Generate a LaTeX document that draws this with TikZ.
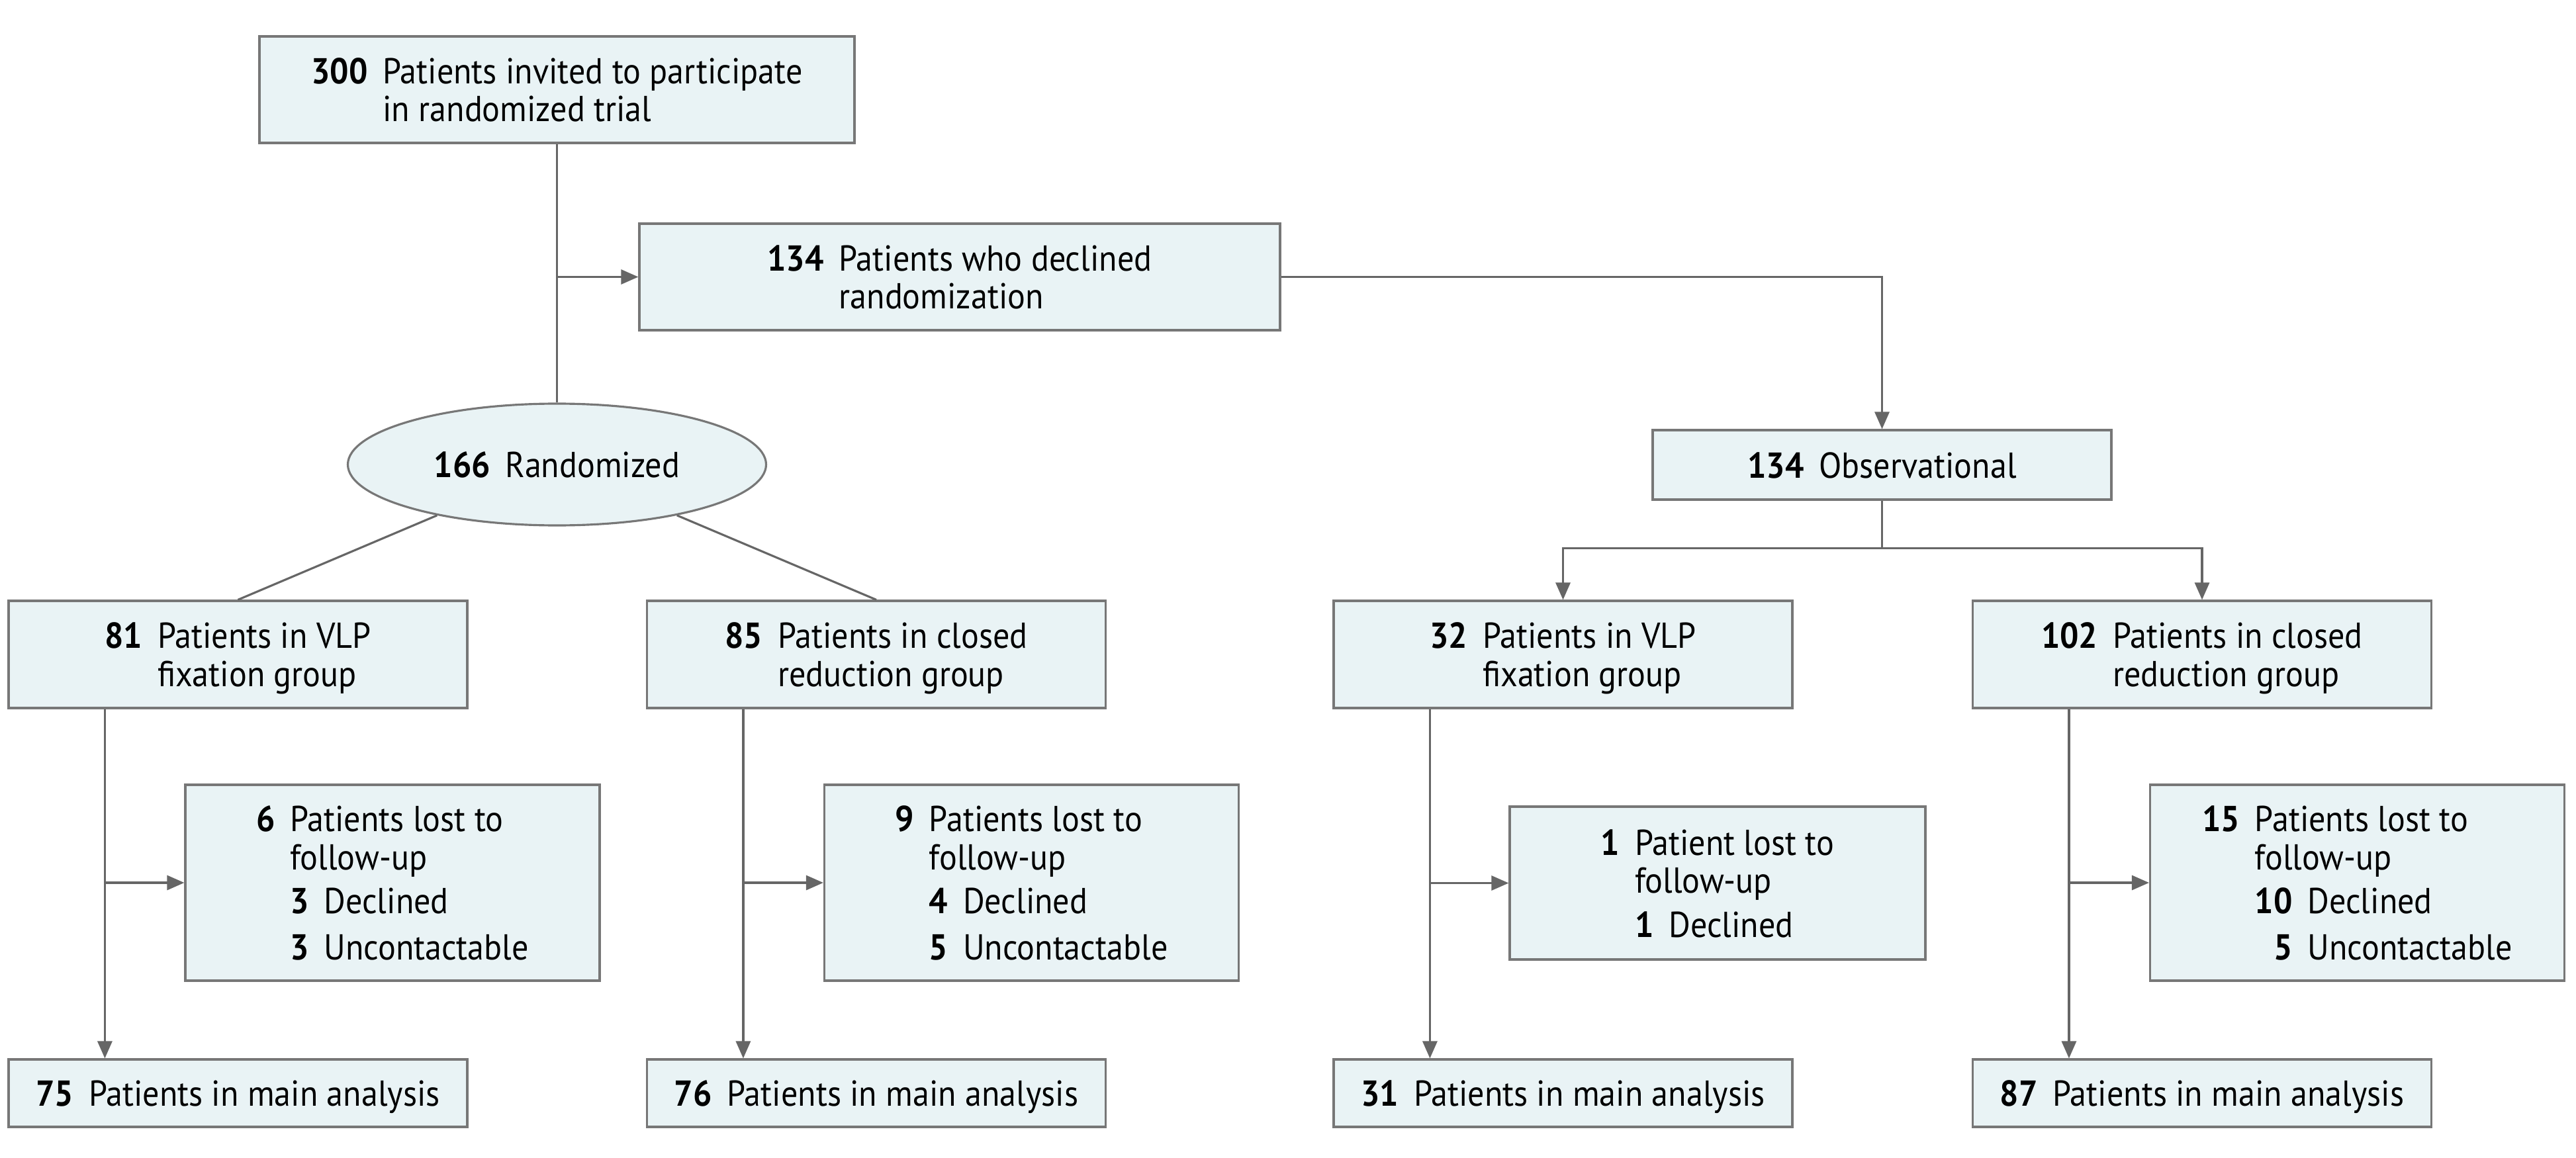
\documentclass[tikz,border=0pt]{standalone}
\usepackage{fontspec}
\setmainfont{PT Sans}[FakeStretch=0.92]
\usepackage{tikz}
\usetikzlibrary{shapes.geometric, arrows.meta, calc}
\definecolor{boxfill}{HTML}{E9F3F5}
\definecolor{boxline}{HTML}{777777}
\definecolor{linkgray}{HTML}{666666}
\newcommand{\flowtext}[1]{\raisebox{-2.3pt}[\height][\depth]{\begin{tabular}{@{}r@{\hspace{0.42em}}l@{}}#1\end{tabular}}}
\newcommand{\subrows}[1]{\begin{tabular}[t]{@{}r@{\hspace{0.42em}}l@{}}#1\end{tabular}}

\begin{document}
\begin{tikzpicture}[
  flowbox/.style={
    rectangle,
    draw=boxline,
    fill=boxfill,
    line width=0.9pt,
    minimum width=6.93cm,
    minimum height=1.62cm,
    inner sep=0pt,
    align=center,
    font=\fontsize{15.5}{16.4}\selectfont
  },
  lostbox/.style={flowbox, minimum width=6.26cm, minimum height=2.96cm},
  endbox/.style={flowbox, minimum height=1.02cm},
  arrow/.style={-{Triangle[length=0.26cm, width=0.22cm]}, line width=0.9pt, linkgray},
  link/.style={line width=0.9pt, linkgray}
]
  \useasboundingbox (0,0) rectangle (38.92,-17.5);

  \node[flowbox, minimum width=8.99cm, minimum height=1.61cm] (invited) at (8.415,-1.355)
    {\flowtext{\textbf{300} & Patients invited to participate\\ & in randomized trial}};
  \node[flowbox, minimum width=9.68cm, minimum height=1.61cm] (declined) at (14.5,-4.185)
    {\flowtext{\textbf{134} & Patients who declined\\ & randomization}};
  \node[flowbox, ellipse, minimum width=6.32cm, minimum height=1.84cm] (random) at (8.415,-7.02)
    {\flowtext{\textbf{166} & Randomized}};
  \node[flowbox, minimum height=1.05cm] (observ) at (28.435,-7.025)
    {\flowtext{\textbf{134} & Observational}};

  \node[flowbox] (vlpA) at (3.595,-9.89) {\flowtext{\textbf{81} & Patients in VLP\\ & fixation group}};
  \node[flowbox] (crA) at (13.24,-9.89) {\flowtext{\textbf{85} & Patients in closed\\ & reduction group}};
  \node[flowbox] (vlpB) at (23.615,-9.89) {\flowtext{\textbf{32} & Patients in VLP\\ & fixation group}};
  \node[flowbox] (crB) at (33.27,-9.89) {\flowtext{\textbf{102} & Patients in closed\\ & reduction group}};

  \node[lostbox] (lostA) at (5.93,-13.34)
    {\flowtext{\textbf{6} & Patients lost to\\ & follow-up\\[2.5pt] & \subrows{\textbf{3} & Declined\\[3.5pt] \textbf{3} & Uncontactable}}};
  \node[lostbox] (lostB) at (15.585,-13.34)
    {\flowtext{\textbf{9} & Patients lost to\\ & follow-up\\[2.5pt] & \subrows{\textbf{4} & Declined\\[3.5pt] \textbf{5} & Uncontactable}}};
  \node[lostbox, minimum width=6.28cm, minimum height=2.31cm] (lostC) at (25.95,-13.345)
    {\flowtext{\textbf{1} & Patient lost to\\ & follow-up\\[2.5pt] & \subrows{\textbf{1} & Declined}}};
  \node[lostbox] (lostD) at (35.615,-13.34)
    {\flowtext{\textbf{15} & Patients lost to\\ & follow-up\\[2.5pt] & \subrows{\textbf{10} & Declined\\[3.5pt] \textbf{5} & Uncontactable}}};

  \node[endbox] (mainA) at (3.595,-16.52) {\flowtext{\textbf{75} & Patients in main analysis}};
  \node[endbox] (mainB) at (13.24,-16.52) {\flowtext{\textbf{76} & Patients in main analysis}};
  \node[endbox] (mainC) at (23.615,-16.52) {\flowtext{\textbf{31} & Patients in main analysis}};
  \node[endbox] (mainD) at (33.27,-16.52) {\flowtext{\textbf{87} & Patients in main analysis}};

  \draw[link] (invited.south) -- (random.north);
  \draw[arrow] (invited.south |- declined.west) -- (declined.west);
  \draw[arrow] (declined.east) -| (observ.north);

  \draw[link] (random) -- (vlpA.north);
  \draw[link] (random) -- (crA.north);

  \coordinate (split) at ($(observ.south)+(0,-0.715)$);
  \draw[link] (observ.south) -- (split);
  \draw[arrow] (split) -| (vlpB.north);
  \draw[arrow] (split) -| (crB.north);

  \foreach \grp/\lost/\fin in {vlpA/lostA/mainA, crA/lostB/mainB, vlpB/lostC/mainC, crB/lostD/mainD} {
    \coordinate (trunk-\grp) at ($(\grp.south west)+(1.47,0)$);
    \draw[arrow] (trunk-\grp) -- (trunk-\grp |- \fin.north);
    \draw[arrow] (trunk-\grp |- \lost.west) -- (\lost.west);
  }
\end{tikzpicture}
\end{document}
